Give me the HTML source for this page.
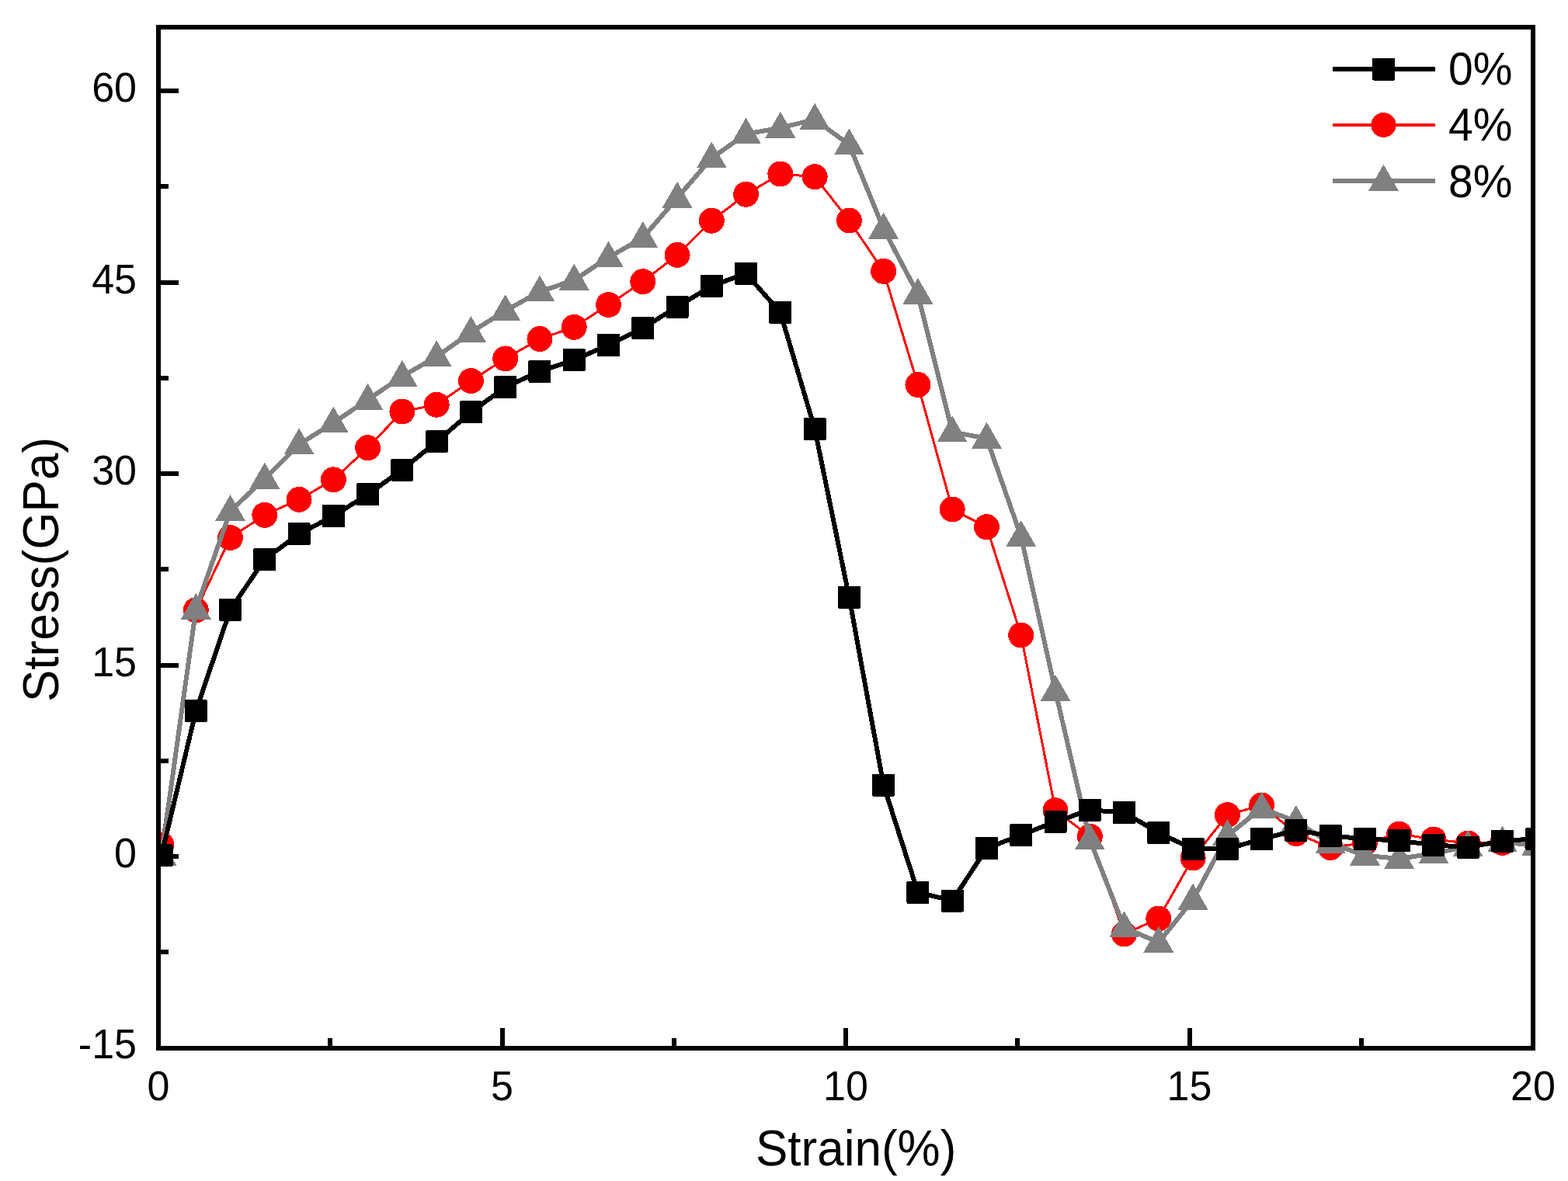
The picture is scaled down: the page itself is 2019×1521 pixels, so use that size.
<!DOCTYPE html>
<html><head><meta charset="utf-8"><title>Stress-Strain</title>
<style>html,body{margin:0;padding:0;background:#fff;overflow:hidden;width:2019px;height:1521px;}svg{display:block;}text{font-family:'Liberation Sans', Arial, Helvetica, sans-serif;fill:#000;} rect,circle,polygon,polyline,path,line{shape-rendering:crispEdges;}</style></head><body>
<svg width="2019" height="1521" viewBox="0 0 2019 1521">
<rect width="2019" height="1521" fill="#fff"/>
<defs><clipPath id="pc"><rect x="204" y="35" width="1770" height="1315"/></clipPath></defs>
<g clip-path="url(#pc)">
<polyline points="208.00,1088.00 252.27,785.80 296.54,692.50 340.81,663.30 385.08,643.30 429.35,617.80 473.62,576.70 517.89,530.00 562.16,521.20 606.43,490.50 650.70,461.90 694.97,436.50 739.24,421.30 783.51,392.50 827.78,362.70 872.05,328.30 916.32,284.20 960.59,250.30 1004.86,224.00 1049.13,227.70 1093.40,284.00 1137.67,349.30 1181.94,495.50 1226.21,656.00 1270.48,678.70 1314.75,818.00 1359.02,1043.80 1403.29,1077.20 1447.56,1203.00 1491.83,1183.00 1536.10,1105.00 1580.37,1049.50 1624.64,1037.00 1668.91,1073.50 1713.18,1091.50 1757.45,1085.50 1801.72,1074.00 1845.99,1081.00 1890.26,1086.00 1934.53,1085.50 1978.80,1086.00" fill="none" stroke="#f00" stroke-width="3" stroke-linejoin="miter" stroke-miterlimit="4"/>
<g><circle cx="208.00" cy="1088.00" r="16.50" fill="#f00"/><circle cx="252.27" cy="785.80" r="16.50" fill="#f00"/><circle cx="296.54" cy="692.50" r="16.50" fill="#f00"/><circle cx="340.81" cy="663.30" r="16.50" fill="#f00"/><circle cx="385.08" cy="643.30" r="16.50" fill="#f00"/><circle cx="429.35" cy="617.80" r="16.50" fill="#f00"/><circle cx="473.62" cy="576.70" r="16.50" fill="#f00"/><circle cx="517.89" cy="530.00" r="16.50" fill="#f00"/><circle cx="562.16" cy="521.20" r="16.50" fill="#f00"/><circle cx="606.43" cy="490.50" r="16.50" fill="#f00"/><circle cx="650.70" cy="461.90" r="16.50" fill="#f00"/><circle cx="694.97" cy="436.50" r="16.50" fill="#f00"/><circle cx="739.24" cy="421.30" r="16.50" fill="#f00"/><circle cx="783.51" cy="392.50" r="16.50" fill="#f00"/><circle cx="827.78" cy="362.70" r="16.50" fill="#f00"/><circle cx="872.05" cy="328.30" r="16.50" fill="#f00"/><circle cx="916.32" cy="284.20" r="16.50" fill="#f00"/><circle cx="960.59" cy="250.30" r="16.50" fill="#f00"/><circle cx="1004.86" cy="224.00" r="16.50" fill="#f00"/><circle cx="1049.13" cy="227.70" r="16.50" fill="#f00"/><circle cx="1093.40" cy="284.00" r="16.50" fill="#f00"/><circle cx="1137.67" cy="349.30" r="16.50" fill="#f00"/><circle cx="1181.94" cy="495.50" r="16.50" fill="#f00"/><circle cx="1226.21" cy="656.00" r="16.50" fill="#f00"/><circle cx="1270.48" cy="678.70" r="16.50" fill="#f00"/><circle cx="1314.75" cy="818.00" r="16.50" fill="#f00"/><circle cx="1359.02" cy="1043.80" r="16.50" fill="#f00"/><circle cx="1403.29" cy="1077.20" r="16.50" fill="#f00"/><circle cx="1447.56" cy="1203.00" r="16.50" fill="#f00"/><circle cx="1491.83" cy="1183.00" r="16.50" fill="#f00"/><circle cx="1536.10" cy="1105.00" r="16.50" fill="#f00"/><circle cx="1580.37" cy="1049.50" r="16.50" fill="#f00"/><circle cx="1624.64" cy="1037.00" r="16.50" fill="#f00"/><circle cx="1668.91" cy="1073.50" r="16.50" fill="#f00"/><circle cx="1713.18" cy="1091.50" r="16.50" fill="#f00"/><circle cx="1757.45" cy="1085.50" r="16.50" fill="#f00"/><circle cx="1801.72" cy="1074.00" r="16.50" fill="#f00"/><circle cx="1845.99" cy="1081.00" r="16.50" fill="#f00"/><circle cx="1890.26" cy="1086.00" r="16.50" fill="#f00"/><circle cx="1934.53" cy="1085.50" r="16.50" fill="#f00"/><circle cx="1978.80" cy="1086.00" r="16.50" fill="#f00"/></g>
<polyline points="208.00,1101.80 252.27,784.70 296.54,658.10 340.81,616.70 385.08,572.40 429.35,544.50 473.62,514.70 517.89,484.70 562.16,459.30 606.43,428.00 650.70,400.20 694.97,375.60 739.24,360.70 783.51,331.60 827.78,306.20 872.05,254.90 916.32,203.50 960.59,172.60 1004.86,164.70 1049.13,153.80 1093.40,186.40 1137.67,294.70 1181.94,378.80 1226.21,556.40 1270.48,564.70 1314.75,691.20 1359.02,890.10 1403.29,1081.40 1447.56,1194.50 1491.83,1213.80 1536.10,1158.70 1580.37,1076.20 1624.64,1040.90 1668.91,1058.00 1713.18,1086.10 1757.45,1101.70 1801.72,1106.00 1845.99,1099.10 1890.26,1090.20 1934.53,1084.50 1978.80,1089.00" fill="none" stroke="#808080" stroke-width="6" stroke-linejoin="miter" stroke-miterlimit="4"/>
<g><polygon points="208.00,1080.80 227.40,1114.60 188.60,1114.60" fill="#808080"/><polygon points="252.27,763.70 271.67,797.50 232.87,797.50" fill="#808080"/><polygon points="296.54,637.10 315.94,670.90 277.14,670.90" fill="#808080"/><polygon points="340.81,595.70 360.21,629.50 321.41,629.50" fill="#808080"/><polygon points="385.08,551.40 404.48,585.20 365.68,585.20" fill="#808080"/><polygon points="429.35,523.50 448.75,557.30 409.95,557.30" fill="#808080"/><polygon points="473.62,493.70 493.02,527.50 454.22,527.50" fill="#808080"/><polygon points="517.89,463.70 537.29,497.50 498.49,497.50" fill="#808080"/><polygon points="562.16,438.30 581.56,472.10 542.76,472.10" fill="#808080"/><polygon points="606.43,407.00 625.83,440.80 587.03,440.80" fill="#808080"/><polygon points="650.70,379.20 670.10,413.00 631.30,413.00" fill="#808080"/><polygon points="694.97,354.60 714.37,388.40 675.57,388.40" fill="#808080"/><polygon points="739.24,339.70 758.64,373.50 719.84,373.50" fill="#808080"/><polygon points="783.51,310.60 802.91,344.40 764.11,344.40" fill="#808080"/><polygon points="827.78,285.20 847.18,319.00 808.38,319.00" fill="#808080"/><polygon points="872.05,233.90 891.45,267.70 852.65,267.70" fill="#808080"/><polygon points="916.32,182.50 935.72,216.30 896.92,216.30" fill="#808080"/><polygon points="960.59,151.60 979.99,185.40 941.19,185.40" fill="#808080"/><polygon points="1004.86,143.70 1024.26,177.50 985.46,177.50" fill="#808080"/><polygon points="1049.13,132.80 1068.53,166.60 1029.73,166.60" fill="#808080"/><polygon points="1093.40,165.40 1112.80,199.20 1074.00,199.20" fill="#808080"/><polygon points="1137.67,273.70 1157.07,307.50 1118.27,307.50" fill="#808080"/><polygon points="1181.94,357.80 1201.34,391.60 1162.54,391.60" fill="#808080"/><polygon points="1226.21,535.40 1245.61,569.20 1206.81,569.20" fill="#808080"/><polygon points="1270.48,543.70 1289.88,577.50 1251.08,577.50" fill="#808080"/><polygon points="1314.75,670.20 1334.15,704.00 1295.35,704.00" fill="#808080"/><polygon points="1359.02,869.10 1378.42,902.90 1339.62,902.90" fill="#808080"/><polygon points="1403.29,1060.40 1422.69,1094.20 1383.89,1094.20" fill="#808080"/><polygon points="1447.56,1173.50 1466.96,1207.30 1428.16,1207.30" fill="#808080"/><polygon points="1491.83,1192.80 1511.23,1226.60 1472.43,1226.60" fill="#808080"/><polygon points="1536.10,1137.70 1555.50,1171.50 1516.70,1171.50" fill="#808080"/><polygon points="1580.37,1055.20 1599.77,1089.00 1560.97,1089.00" fill="#808080"/><polygon points="1624.64,1019.90 1644.04,1053.70 1605.24,1053.70" fill="#808080"/><polygon points="1668.91,1037.00 1688.31,1070.80 1649.51,1070.80" fill="#808080"/><polygon points="1713.18,1065.10 1732.58,1098.90 1693.78,1098.90" fill="#808080"/><polygon points="1757.45,1080.70 1776.85,1114.50 1738.05,1114.50" fill="#808080"/><polygon points="1801.72,1085.00 1821.12,1118.80 1782.32,1118.80" fill="#808080"/><polygon points="1845.99,1078.10 1865.39,1111.90 1826.59,1111.90" fill="#808080"/><polygon points="1890.26,1069.20 1909.66,1103.00 1870.86,1103.00" fill="#808080"/><polygon points="1934.53,1063.50 1953.93,1097.30 1915.13,1097.30" fill="#808080"/><polygon points="1978.80,1068.00 1998.20,1101.80 1959.40,1101.80" fill="#808080"/></g>
<polyline points="208.00,1101.50 252.27,915.50 296.54,785.30 340.81,720.30 385.08,687.80 429.35,664.50 473.62,636.70 517.89,605.00 562.16,568.80 606.43,530.80 650.70,498.60 694.97,478.30 739.24,463.40 783.51,444.40 827.78,422.30 872.05,395.20 916.32,368.30 960.59,352.20 1004.86,402.50 1049.13,552.50 1093.40,769.20 1137.67,1011.20 1181.94,1149.20 1226.21,1160.00 1270.48,1092.50 1314.75,1075.50 1359.02,1058.30 1403.29,1043.30 1447.56,1046.50 1491.83,1072.50 1536.10,1093.40 1580.37,1093.40 1624.64,1080.50 1668.91,1069.30 1713.18,1076.40 1757.45,1080.40 1801.72,1082.70 1845.99,1088.20 1890.26,1091.20 1934.53,1083.00 1978.80,1080.20" fill="none" stroke="#000" stroke-width="6" stroke-linejoin="miter" stroke-miterlimit="4"/>
<g><rect x="193.50" y="1087.00" width="29.0" height="29.0" rx="1.5" fill="#000"/><rect x="237.77" y="901.00" width="29.0" height="29.0" rx="1.5" fill="#000"/><rect x="282.04" y="770.80" width="29.0" height="29.0" rx="1.5" fill="#000"/><rect x="326.31" y="705.80" width="29.0" height="29.0" rx="1.5" fill="#000"/><rect x="370.58" y="673.30" width="29.0" height="29.0" rx="1.5" fill="#000"/><rect x="414.85" y="650.00" width="29.0" height="29.0" rx="1.5" fill="#000"/><rect x="459.12" y="622.20" width="29.0" height="29.0" rx="1.5" fill="#000"/><rect x="503.39" y="590.50" width="29.0" height="29.0" rx="1.5" fill="#000"/><rect x="547.66" y="554.30" width="29.0" height="29.0" rx="1.5" fill="#000"/><rect x="591.93" y="516.30" width="29.0" height="29.0" rx="1.5" fill="#000"/><rect x="636.20" y="484.10" width="29.0" height="29.0" rx="1.5" fill="#000"/><rect x="680.47" y="463.80" width="29.0" height="29.0" rx="1.5" fill="#000"/><rect x="724.74" y="448.90" width="29.0" height="29.0" rx="1.5" fill="#000"/><rect x="769.01" y="429.90" width="29.0" height="29.0" rx="1.5" fill="#000"/><rect x="813.28" y="407.80" width="29.0" height="29.0" rx="1.5" fill="#000"/><rect x="857.55" y="380.70" width="29.0" height="29.0" rx="1.5" fill="#000"/><rect x="901.82" y="353.80" width="29.0" height="29.0" rx="1.5" fill="#000"/><rect x="946.09" y="337.70" width="29.0" height="29.0" rx="1.5" fill="#000"/><rect x="990.36" y="388.00" width="29.0" height="29.0" rx="1.5" fill="#000"/><rect x="1034.63" y="538.00" width="29.0" height="29.0" rx="1.5" fill="#000"/><rect x="1078.90" y="754.70" width="29.0" height="29.0" rx="1.5" fill="#000"/><rect x="1123.17" y="996.70" width="29.0" height="29.0" rx="1.5" fill="#000"/><rect x="1167.44" y="1134.70" width="29.0" height="29.0" rx="1.5" fill="#000"/><rect x="1211.71" y="1145.50" width="29.0" height="29.0" rx="1.5" fill="#000"/><rect x="1255.98" y="1078.00" width="29.0" height="29.0" rx="1.5" fill="#000"/><rect x="1300.25" y="1061.00" width="29.0" height="29.0" rx="1.5" fill="#000"/><rect x="1344.52" y="1043.80" width="29.0" height="29.0" rx="1.5" fill="#000"/><rect x="1388.79" y="1028.80" width="29.0" height="29.0" rx="1.5" fill="#000"/><rect x="1433.06" y="1032.00" width="29.0" height="29.0" rx="1.5" fill="#000"/><rect x="1477.33" y="1058.00" width="29.0" height="29.0" rx="1.5" fill="#000"/><rect x="1521.60" y="1078.90" width="29.0" height="29.0" rx="1.5" fill="#000"/><rect x="1565.87" y="1078.90" width="29.0" height="29.0" rx="1.5" fill="#000"/><rect x="1610.14" y="1066.00" width="29.0" height="29.0" rx="1.5" fill="#000"/><rect x="1654.41" y="1054.80" width="29.0" height="29.0" rx="1.5" fill="#000"/><rect x="1698.68" y="1061.90" width="29.0" height="29.0" rx="1.5" fill="#000"/><rect x="1742.95" y="1065.90" width="29.0" height="29.0" rx="1.5" fill="#000"/><rect x="1787.22" y="1068.20" width="29.0" height="29.0" rx="1.5" fill="#000"/><rect x="1831.49" y="1073.70" width="29.0" height="29.0" rx="1.5" fill="#000"/><rect x="1875.76" y="1076.70" width="29.0" height="29.0" rx="1.5" fill="#000"/><rect x="1920.03" y="1068.50" width="29.0" height="29.0" rx="1.5" fill="#000"/><rect x="1964.30" y="1065.70" width="29.0" height="29.0" rx="1.5" fill="#000"/></g>
</g>
<rect x="204" y="35" width="1770" height="1315" fill="none" stroke="#000" stroke-width="6"/>
<path d="M646.50 1350 V1324 M1089.00 1350 V1324 M1531.50 1350 V1324 M425.25 1350 V1336.5 M867.75 1350 V1336.5 M1310.25 1350 V1336.5 M1752.75 1350 V1336.5 M204 1103.00 H230 M204 856.50 H230 M204 610.01 H230 M204 363.51 H230 M204 117.02 H230 M204 1226.25 H217 M204 979.75 H217 M204 733.26 H217 M204 486.76 H217 M204 240.27 H217" stroke="#000" stroke-width="6" fill="none"/>
<text transform="translate(204.00,1417.00) scale(1,1.040)" font-size="52" text-anchor="middle">0</text>
<text transform="translate(646.50,1417.00) scale(1,1.040)" font-size="52" text-anchor="middle">5</text>
<text transform="translate(1089.00,1417.00) scale(1,1.040)" font-size="52" text-anchor="middle">10</text>
<text transform="translate(1531.50,1417.00) scale(1,1.040)" font-size="52" text-anchor="middle">15</text>
<text transform="translate(1974.00,1417.00) scale(1,1.040)" font-size="52" text-anchor="middle">20</text>
<text transform="translate(176.00,1363.49) scale(1,1.040)" font-size="52" text-anchor="end">-15</text>
<text transform="translate(176.00,1117.00) scale(1,1.040)" font-size="52" text-anchor="end">0</text>
<text transform="translate(176.00,870.50) scale(1,1.040)" font-size="52" text-anchor="end">15</text>
<text transform="translate(176.00,624.01) scale(1,1.040)" font-size="52" text-anchor="end">30</text>
<text transform="translate(176.00,377.51) scale(1,1.040)" font-size="52" text-anchor="end">45</text>
<text transform="translate(176.00,131.02) scale(1,1.040)" font-size="52" text-anchor="end">60</text>
<text transform="translate(973.00,1500.50) scale(1,1.040)" font-size="62">Strain(%)</text>
<text transform="translate(74.50,904.00) rotate(-90) scale(1,1.040)" font-size="62">Stress(GPa)</text>
<line x1="1716" y1="89" x2="1848" y2="89" stroke="#000" stroke-width="6"/>
<rect x="1767.00" y="74.50" width="29.0" height="29.0" rx="1.5" fill="#000"/>
<line x1="1716" y1="161" x2="1848" y2="161" stroke="#f00" stroke-width="4"/>
<circle cx="1781.50" cy="161.00" r="16.00" fill="#f00"/>
<line x1="1716" y1="233" x2="1848" y2="233" stroke="#808080" stroke-width="6"/>
<polygon points="1781.50,212.00 1800.90,245.80 1762.10,245.80" fill="#808080"/>
<text transform="translate(1865.00,109.00) scale(1,1.040)" font-size="57">0%</text>
<text transform="translate(1865.00,181.30) scale(1,1.040)" font-size="57">4%</text>
<text transform="translate(1865.00,253.80) scale(1,1.040)" font-size="57">8%</text>
</svg></body></html>
